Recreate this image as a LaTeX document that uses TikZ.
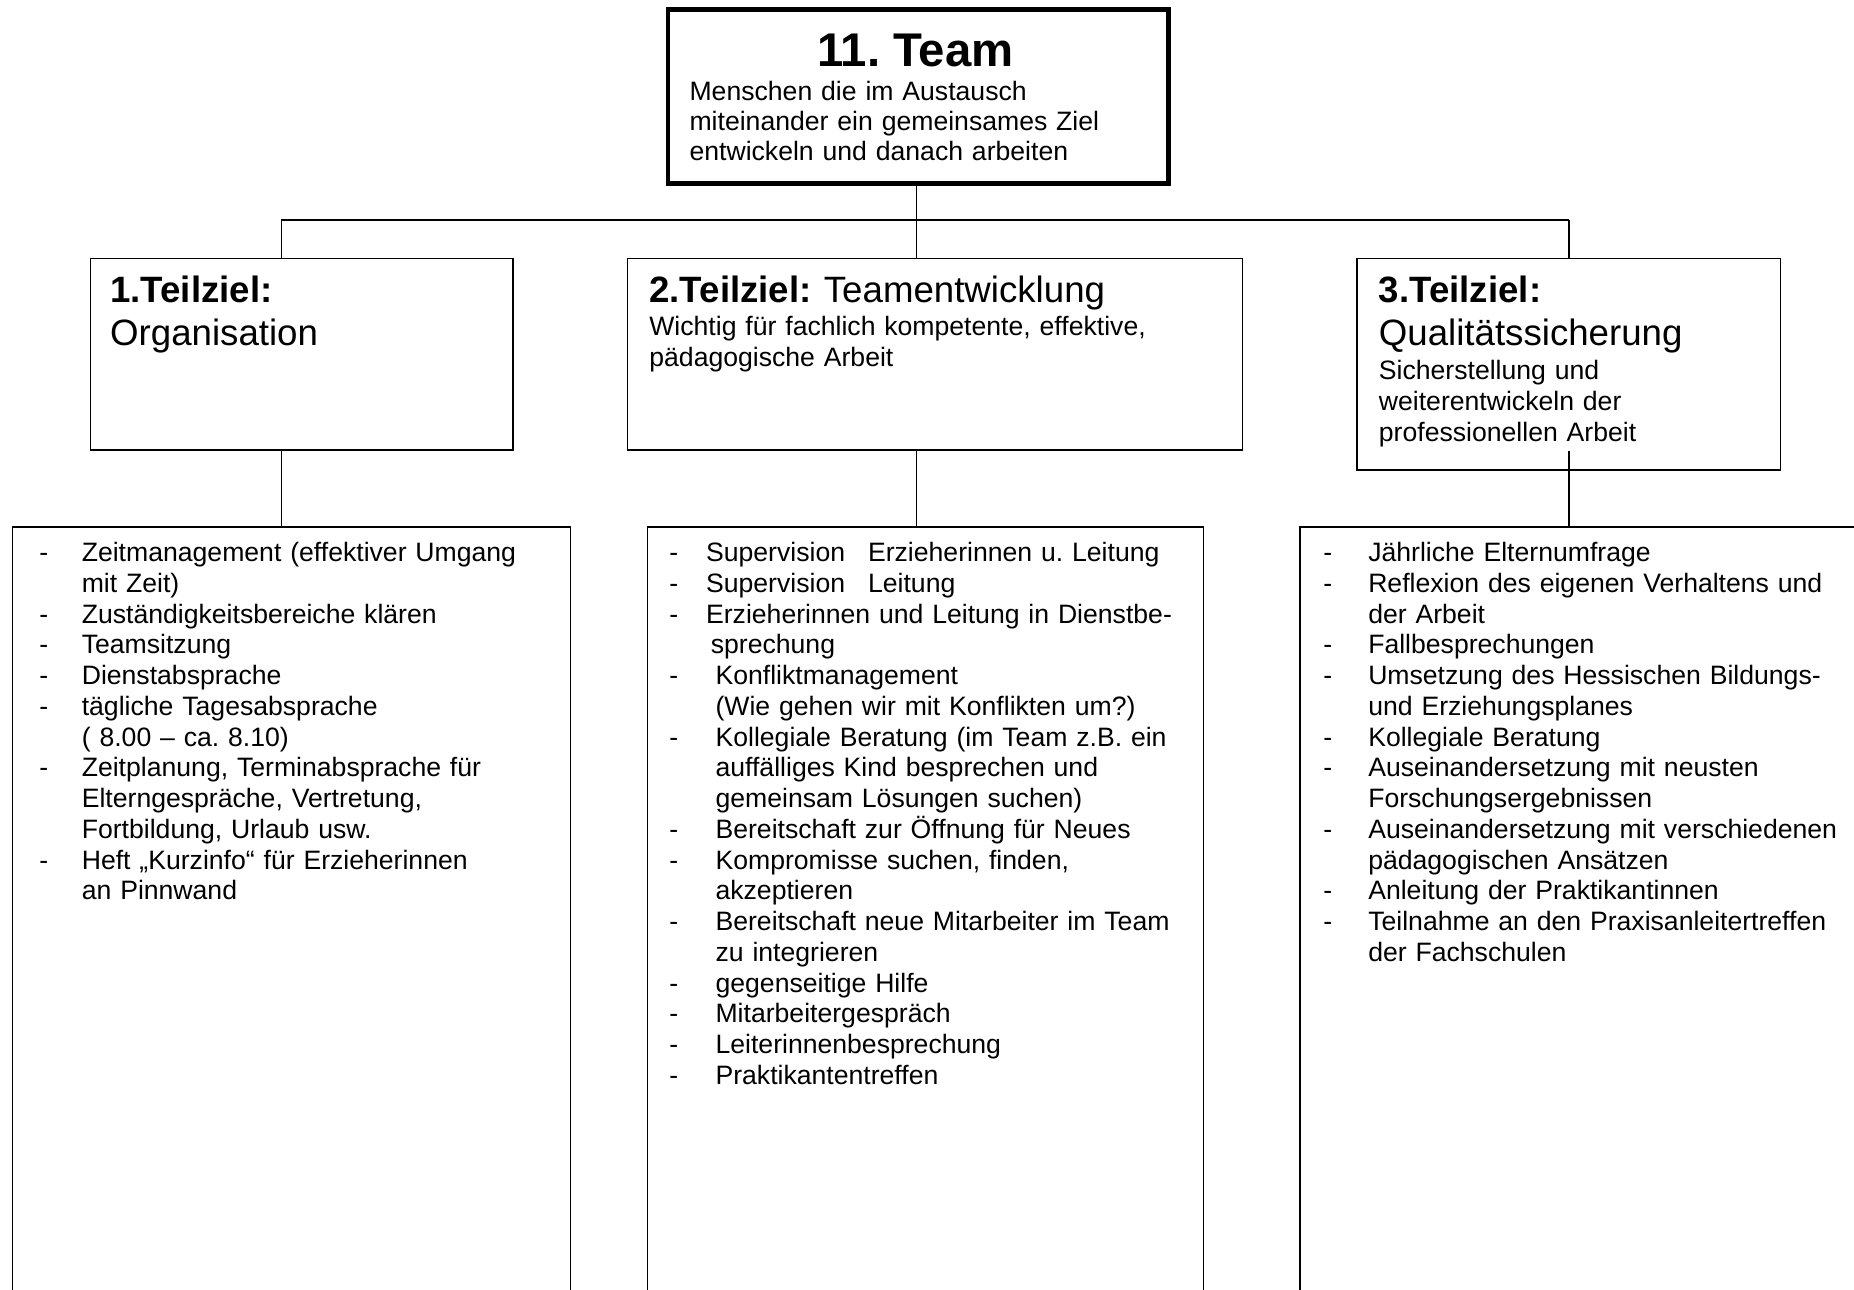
\documentclass[tikz,border=0pt]{standalone}
\usepackage{fontspec}
\setmainfont{Liberation Sans}
\setlength{\parindent}{0pt}
\frenchspacing
\newcommand\Dsh[2]{\makebox[#1pt][l]{-}#2}
\newcommand\Ind[2]{\hspace*{#1pt}#2}
\begin{document}
\frenchspacing
\begin{tikzpicture}[x=1pt,y=-1pt,
  box/.style={draw, line width=1.3pt, rectangle, inner sep=0pt, anchor=north west},
  topbox/.style={draw, line width=4pt, rectangle, inner sep=0pt, anchor=north west},
  txt/.style={inner sep=0pt, anchor=base west, align=left, text width=520pt,
    font=\fontsize{22.5}{26}\selectfont\frenchspacing},
  head/.style={inner sep=0pt, anchor=base west, align=left, text width=400pt,
    font=\fontsize{31}{36}\selectfont\frenchspacing},
  conn/.style={line width=1.2pt}]
\useasboundingbox (0,0) rectangle (1568,1091);
\clip (0,0) rectangle (1568,1091);
\fill[white] (0,0) rectangle (1568,1091);

% boxes
\node[topbox, minimum width=423pt, minimum height=147pt] (top) at (563,6) {};
\node[box, minimum width=357pt, minimum height=162pt] (b1) at (76,218) {};
\node[box, minimum width=520pt, minimum height=162pt] (b2) at (530,218) {};
\node[box, minimum width=358pt, minimum height=179pt] (b3) at (1147,218) {};
\node[box, minimum width=472pt, minimum height=700pt] (l1) at (10,445) {};
\node[box, minimum width=470pt, minimum height=700pt] (l2) at (547,445) {};
\node[box, minimum width=520pt, minimum height=700pt] (l3) at (1099,445) {};

% connectors
\coordinate (k1) at (238,186);
\coordinate (k2) at (775,186);
\coordinate (k3) at (1327,186);
\draw[conn] (top.south -| k2) -- (k2);
\draw[conn] (k1) -- (k3);
\draw[conn] (k1) -- (k1 |- b1.north);
\draw[conn] (k2) -- (k2 |- b2.north);
\draw[conn] (k3) -- (k3 |- b3.north);
\draw[conn] (k1 |- b1.south) -- (k1 |- l1.north);
\draw[conn] (k2 |- b2.south) -- (k2 |- l2.north);
\draw[conn] (k3 |- b2.south) -- (k3 |- l3.north);

% top box text
\node[inner sep=0pt, anchor=base, font=\fontsize{40}{46}\selectfont\bfseries\frenchspacing] (tt) at (774,56) {11. Team};
\node[txt, text width=390pt, font=\fontsize{22.5}{25.5}\selectfont] (ts) at (583,85)
  {Menschen die im Austausch\\miteinander ein gemeinsames Ziel\\entwickeln und danach arbeiten};

% level 2 texts
\node[head] (h1) at (93,256) {\textbf{1.Teilziel:}\\Organisation};
\node[head] (h2) at (549,256) {\textbf{2.Teilziel:} Teamentwicklung};
\node[txt] (s2) at (549,284) {Wichtig für fachlich kompetente, effektive,\\pädagogische Arbeit};
\node[head] (h3) at (1166,256) {\textbf{3.Teilziel:}\\Qualitätssicherung};
\node[txt] (s3) at (1166,321) {Sicherstellung und\\weiterentwickeln der\\professionellen Arbeit};

% lists
\node[txt] (list1) at (33,475) {%
\Dsh{36}{Zeitmanagement (effektiver Umgang}\\
\Ind{36}{mit Zeit)}\\
\Dsh{36}{Zuständigkeitsbereiche klären}\\
\Dsh{36}{Teamsitzung}\\
\Dsh{36}{Dienstabsprache}\\
\Dsh{36}{tägliche Tagesabsprache}\\
\Ind{36}{( 8.00 – ca. 8.10)}\\
\Dsh{36}{Zeitplanung, Terminabsprache für}\\
\Ind{36}{Elterngespräche, Vertretung,}\\
\Ind{36}{Fortbildung, Urlaub usw.}\\
\Dsh{36}{Heft „Kurzinfo“ für Erzieherinnen}\\
\Ind{36}{an Pinnwand}};

\node[txt] (list2) at (566,475) {%
\Dsh{31}{\makebox[137pt][l]{Supervision}Erzieherinnen u. Leitung}\\
\Dsh{31}{\makebox[137pt][l]{Supervision}Leitung}\\
\Dsh{31}{Erzieherinnen und Leitung in Dienstbe-}\\
\Ind{35}{sprechung}\\
\Dsh{39}{Konfliktmanagement}\\
\Ind{39}{(Wie gehen wir mit Konflikten um?)}\\
\Dsh{39}{Kollegiale Beratung (im Team z.B. ein}\\
\Ind{39}{auffälliges Kind besprechen und}\\
\Ind{39}{gemeinsam Lösungen suchen)}\\
\Dsh{39}{Bereitschaft zur Öffnung für Neues}\\
\Dsh{39}{Kompromisse suchen, finden,}\\
\Ind{39}{akzeptieren}\\
\Dsh{39}{Bereitschaft neue Mitarbeiter im Team}\\
\Ind{39}{zu integrieren}\\
\Dsh{39}{gegenseitige Hilfe}\\
\Dsh{39}{Mitarbeitergespräch}\\
\Dsh{39}{Leiterinnenbesprechung}\\
\Dsh{39}{Praktikantentreffen}};

\node[txt] (list3) at (1119,475) {%
\Dsh{38}{Jährliche Elternumfrage}\\
\Dsh{38}{Reflexion des eigenen Verhaltens und}\\
\Ind{38}{der Arbeit}\\
\Dsh{38}{Fallbesprechungen}\\
\Dsh{38}{Umsetzung des Hessischen Bildungs-}\\
\Ind{38}{und Erziehungsplanes}\\
\Dsh{38}{Kollegiale Beratung}\\
\Dsh{38}{Auseinandersetzung mit neusten}\\
\Ind{38}{Forschungsergebnissen}\\
\Dsh{38}{Auseinandersetzung mit verschiedenen}\\
\Ind{38}{pädagogischen Ansätzen}\\
\Dsh{38}{Anleitung der Praktikantinnen}\\
\Dsh{38}{Teilnahme an den Praxisanleitertreffen}\\
\Ind{38}{der Fachschulen}};
\end{tikzpicture}
\end{document}
